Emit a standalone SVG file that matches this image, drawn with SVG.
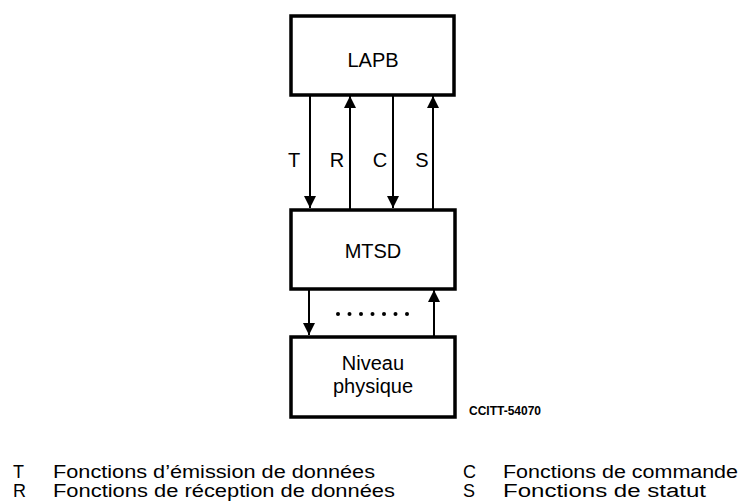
<svg xmlns="http://www.w3.org/2000/svg" width="744" height="501" viewBox="0 0 744 501">
<style>
text{font-family:"Liberation Sans",Arial,sans-serif;fill:#000}
.box{fill:#fff;stroke:#000;stroke-width:3.5}
.lbl{font-size:20px;text-anchor:middle}
.ln{stroke:#000;stroke-width:2;fill:none}
.leg{font-size:18px}
</style>
<defs>
<marker id="ah" viewBox="0 0 12 12" refX="12" refY="6" markerWidth="12" markerHeight="12" markerUnits="userSpaceOnUse" orient="auto">
<path d="M0,0 L12,6 L0,12 z" fill="#000"/>
</marker>
</defs>
<g id="connectors">
<line class="ln" x1="310" y1="95" x2="310" y2="208" marker-end="url(#ah)"/>
<line class="ln" x1="350" y1="209" x2="350" y2="96" marker-end="url(#ah)"/>
<line class="ln" x1="393" y1="95" x2="393" y2="208" marker-end="url(#ah)"/>
<line class="ln" x1="433" y1="209" x2="433" y2="96" marker-end="url(#ah)"/>
<line class="ln" x1="309" y1="289" x2="309" y2="335" marker-end="url(#ah)"/>
<line class="ln" x1="434" y1="336" x2="434" y2="290" marker-end="url(#ah)"/>
<g fill="#000">
<circle cx="338" cy="314" r="2"/><circle cx="349.5" cy="314" r="2"/><circle cx="361" cy="314" r="2"/><circle cx="372.5" cy="314" r="2"/><circle cx="384" cy="314" r="2"/><circle cx="395.5" cy="314" r="2"/><circle cx="407" cy="314" r="2"/>
</g>
<text class="lbl" x="294" y="167">T</text>
<text class="lbl" x="337" y="167">R</text>
<text class="lbl" x="380" y="167">C</text>
<text class="lbl" x="422" y="167">S</text>
</g>
<g id="lapb">
<rect class="box" x="291" y="16" width="163" height="79"/>
<text class="lbl" x="373" y="67">LAPB</text>
</g>
<g id="mtsd">
<rect class="box" x="291" y="210" width="164" height="79"/>
<text class="lbl" x="373" y="258">MTSD</text>
</g>
<g id="niveau">
<rect class="box" x="291" y="337" width="164" height="80"/>
<text class="lbl" x="373" y="370">Niveau</text>
<text class="lbl" x="373" y="393">physique</text>
</g>
<text x="469" y="415" style="font-size:12px;font-weight:bold">CCITT-54070</text>
<g id="legend" class="leg">
<text x="13" y="478">T</text>
<text x="53" y="478" textLength="322" lengthAdjust="spacingAndGlyphs">Fonctions d’émission de données</text>
<text x="13" y="497">R</text>
<text x="53" y="497" textLength="342" lengthAdjust="spacingAndGlyphs">Fonctions de réception de données</text>
<text x="463" y="478">C</text>
<text x="503" y="478" textLength="235" lengthAdjust="spacingAndGlyphs">Fonctions de commande</text>
<text x="463" y="497">S</text>
<text x="503" y="497" textLength="203" lengthAdjust="spacingAndGlyphs">Fonctions de statut</text>
</g>
</svg>
